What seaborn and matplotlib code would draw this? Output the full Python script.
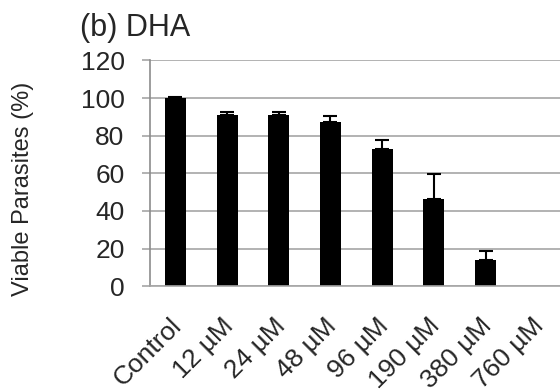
import numpy as np
import matplotlib
matplotlib.use("Agg")
import matplotlib.pyplot as plt
import matplotlib.transforms as mtransforms
import seaborn as sns

categories = ["Control", "12 µM", "24 µM", "48 µM", "96 µM", "190 µM", "380 µM", "760 µM"]
values = [100.0, 90.8, 90.8, 87.1, 72.9, 46.4, 13.7, 0.0]
errors = [0.3, 1.6, 1.6, 3.2, 4.6, 13.2, 5.1, np.nan]
yticks = [0, 20, 40, 60, 80, 100, 120]

sns.set_theme(style="white")
plt.rcParams["font.family"] = ["Liberation Sans", "DejaVu Sans"]

fig = plt.figure(figsize=(5.6, 3.92), dpi=100)
ax = fig.add_axes([0.267, 0.270, 0.733, 0.576])

sns.barplot(x=categories, y=values, color="black", width=0.406, ax=ax,
            saturation=1, edgecolor="black", linewidth=0)
for p in ax.patches:
    if p.get_height() == 0:
        p.set_visible(False)
x = np.arange(len(categories))
v = np.array(values)
e = np.array(errors)
m = ~np.isnan(e)
ax.errorbar(x[m], v[m], yerr=[np.zeros(m.sum()), e[m]], fmt="none",
            ecolor="black", elinewidth=1.5, capsize=5, capthick=1.5)

ax.set_ylim(0, 120)
ax.set_xlim(-0.5, 7.44)
ax.set_yticks(yticks)
ax.set_yticklabels([str(t) for t in yticks], fontsize=19)
ax.yaxis.grid(True, color="#a6a6a6", linewidth=1.2)
ax.set_axisbelow(True)
for s in ["top", "right"]:
    ax.spines[s].set_visible(False)
ax.spines["left"].set_color("#8c8c8c")
ax.spines["bottom"].set_color("#a6a6a6")
ax.spines["left"].set_linewidth(1.2)
ax.spines["bottom"].set_linewidth(1.2)
ax.tick_params(axis="y", length=6, width=1.2, color="#a6a6a6", direction="out", pad=12, left=True)
ax.tick_params(axis="x", length=0, pad=20)
ax.set_xticks(x)
ax.set_xticklabels(categories, rotation=45, ha="right", rotation_mode="anchor", fontsize=19)
shift = mtransforms.ScaledTranslation(-6 / 100, 0, fig.dpi_scale_trans)
for lab in ax.get_xticklabels():
    lab.set_transform(lab.get_transform() + shift)
ax.set_xlabel("")
ax.set_ylabel("Viable Parasites (%)", fontsize=17, va="center", ha="center")
ax.yaxis.set_label_coords(0.041, 0.519, transform=fig.transFigure)

fig.text(0.143, 0.908, "(b) DHA", fontsize=22, ha="left", va="baseline")

fig.savefig("out.png", dpi=100)
